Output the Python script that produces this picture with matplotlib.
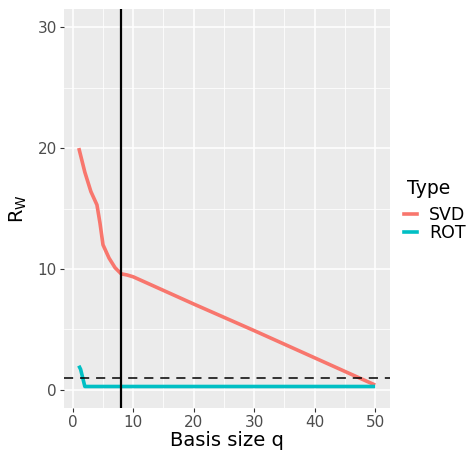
import matplotlib.pyplot as plt
from matplotlib.lines import Line2D

plt.rcParams['font.family'] = ['DejaVu Sans']

# SVD curve
svd_q = [1, 2, 3, 4, 4.5, 5, 6, 7, 8, 9, 10, 20, 30, 40, 50]
svd_r = [20.0, 18.0, 16.4, 15.3, 13.8, 12.0, 10.9, 10.1, 9.6, 9.5, 9.35, 7.1, 4.9, 2.65, 0.4]

# ROT curve
rot_q = [1, 1.3, 2, 50]
rot_r = [2.0, 1.7, 0.28, 0.28]

chosen_q = 8
threshold = 1
legend_labels = ['SVD', 'ROT']
colors = ['#F8766D', '#00BFC4']

fig = plt.figure(figsize=(4.75, 4.5), dpi=100)
ax = fig.add_axes([0.1347, 0.0933, 0.821 - 0.1347, 0.98 - 0.0933])
ax.set_facecolor('#EBEBEB')

ax.plot(svd_q, svd_r, color=colors[0], lw=2.6, solid_capstyle='butt', zorder=3)
ax.plot(rot_q, rot_r, color=colors[1], lw=2.6, solid_capstyle='butt', zorder=3)
ax.axvline(chosen_q, color='black', lw=1.6, zorder=4)
ax.axhline(threshold, color='black', lw=1.1, dashes=(6, 4.5), zorder=4)

ax.set_xlim(-1.45, 52.45)
ax.set_ylim(-1.5, 31.5)
ax.set_xticks([0, 10, 20, 30, 40, 50])
ax.set_yticks([0, 10, 20, 30])
ax.set_xticks([5, 15, 25, 35, 45], minor=True)
ax.set_yticks([5, 15, 25], minor=True)
ax.grid(which='major', color='white', lw=1.1, zorder=0)
ax.grid(which='minor', color='white', lw=0.55, zorder=0)
ax.set_axisbelow(True)
for s in ax.spines.values():
    s.set_visible(False)
ax.tick_params(which='major', length=3, width=0.8, color='#333333',
               labelsize=11, labelcolor='#4D4D4D', pad=2)
ax.tick_params(which='minor', length=0)

ax.set_xlabel('Basis size q', fontsize=14, labelpad=1)
ax.set_ylabel(r'$\mathregular{R_W}$', fontsize=14, labelpad=6)

# legend
fig.text(407 / 475, 1 - 188 / 450, 'Type', fontsize=13.5, ha='left', va='center')
handles = [Line2D([], [], color=c, lw=2.6) for c in colors]
leg = fig.legend(handles, legend_labels, loc='upper left',
                 bbox_to_anchor=(404 / 475, 1 - 206 / 450), frameon=False,
                 fontsize=12.5, handlelength=0.75, handletextpad=0.7,
                 labelspacing=0.0, borderpad=0, borderaxespad=0)

fig.savefig('out.png', dpi=100)
